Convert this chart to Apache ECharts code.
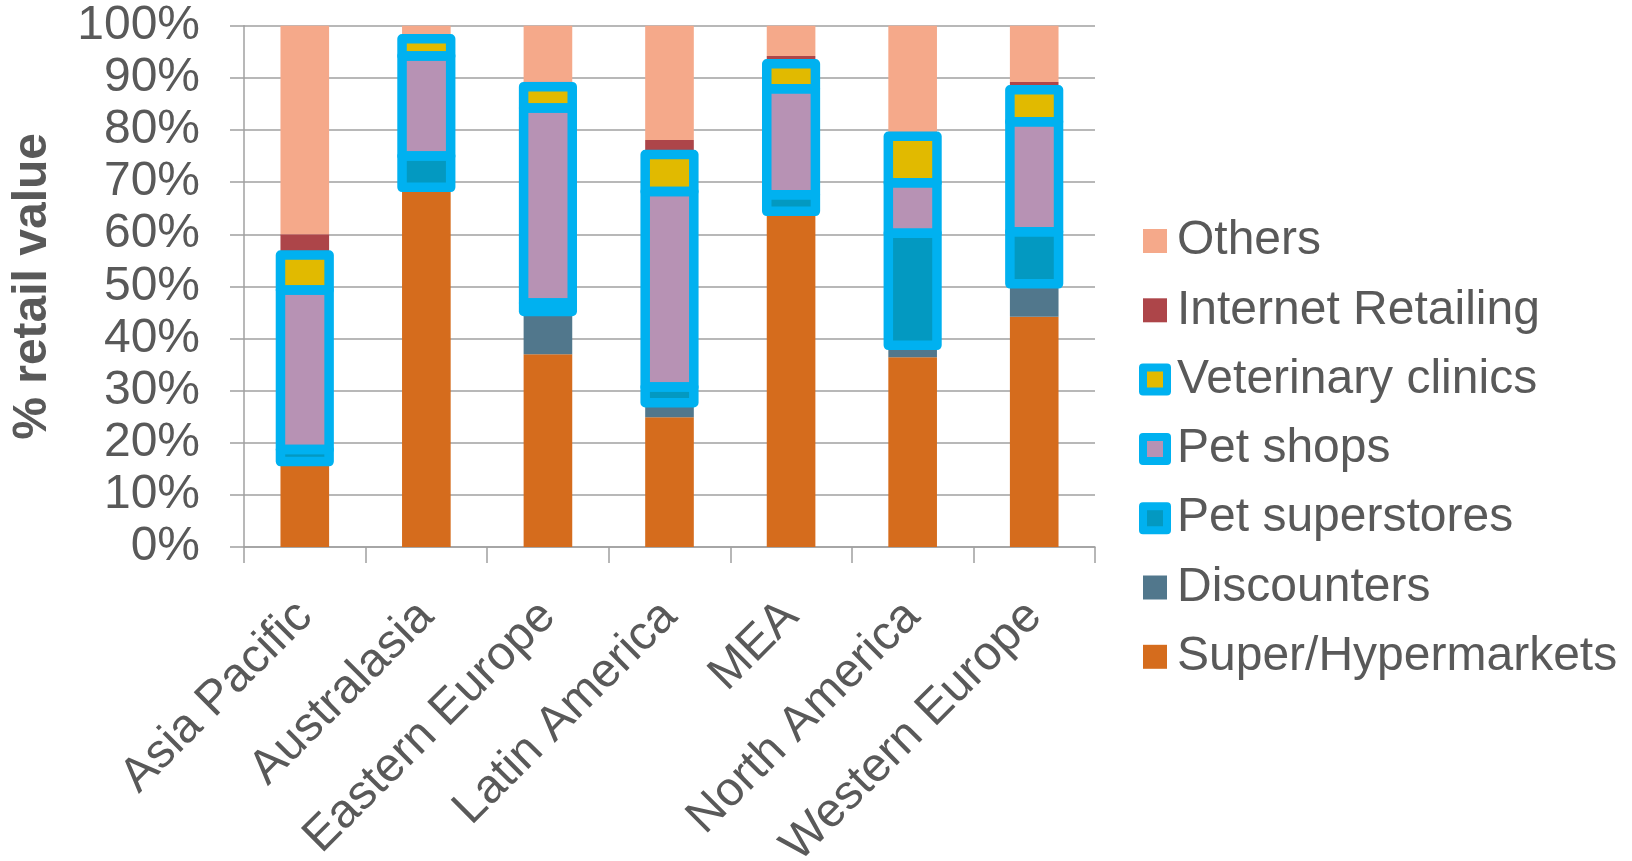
<!DOCTYPE html>
<html>
<head>
<meta charset="utf-8">
<title>Pet care retail channels by region</title>
<script src="https://cdn.jsdelivr.net/npm/echarts@6/dist/echarts.min.js"></script>
<style>
  html, body { margin: 0; padding: 0; background: #ffffff; }
  #chart { width: 1632px; height: 861px; }
</style>
</head>
<body>
<div id="chart"></div>
<script>
// Regions on the category axis
const categories = ['Asia Pacific', 'Australasia', 'Eastern Europe', 'Latin America', 'MEA', 'North America', 'Western Europe'];

// Share of retail value (%) by channel, one entry per region
const superHyper     = [16.0, 68.7, 37.0, 24.9, 64.0, 36.4, 44.2];
const discounters    = [0.4, 0.3, 8.2, 2.8, 0.4, 2.3, 6.3];
const petSuperstores = [2.3, 6.0, 1.6, 3.0, 3.2, 21.5, 10.0];
const petShops       = [30.6, 19.2, 37.4, 37.5, 20.3, 9.7, 21.1];
const vetClinics     = [6.7, 3.3, 4.1, 7.1, 4.8, 8.9, 6.1];
const internet       = [4.0, 0.8, 1.0, 2.8, 1.5, 0.5, 1.5];
const others         = [40.0, 1.7, 10.7, 21.9, 5.8, 20.7, 10.8];

// Y axis ticks
const yTicks = [0, 10, 20, 30, 40, 50, 60, 70, 80, 90, 100];

const TEXT = '#595959';
const GRID = '#A0A0A0';
const FRAME = '#00B1F0';
const FONT = '"Liberation Sans", Arial, sans-serif';

const channels = [
  { name: 'Super/Hypermarkets', data: superHyper,     color: '#D56C1D', framed: false },
  { name: 'Discounters',        data: discounters,    color: '#51778C', framed: false },
  { name: 'Pet superstores',    data: petSuperstores, color: '#0399C1', framed: true },
  { name: 'Pet shops',          data: petShops,       color: '#B792B4', framed: true },
  { name: 'Veterinary clinics', data: vetClinics,     color: '#E1BA00', framed: true },
  { name: 'Internet Retailing', data: internet,       color: '#AD4549', framed: false },
  { name: 'Others',             data: others,         color: '#F5A98A', framed: false }
];

const BAR_RATIO = 0.4;

// Stacked bars, one series per channel
const barSeries = channels.map(c => ({
  name: c.name,
  type: 'bar',
  stack: 'share',
  barWidth: (BAR_RATIO * 100) + '%',
  data: c.data,
  itemStyle: { color: c.color },
  emphasis: { disabled: true },
  silent: true
}));

// Segment extents [regionIndex, low, high] of the specialist channels, used for the blue frames
const frameData = [];
categories.forEach((_, i) => {
  let base = 0;
  channels.forEach(c => {
    const v = c.data[i];
    if (c.framed) frameData.push([i, base, base + v]);
    base += v;
  });
});

const frameSeries = {
  name: 'frames',
  type: 'custom',
  z: 5,
  silent: true,
  encode: { x: 0, y: [1, 2] },
  data: frameData,
  renderItem: function (params, api) {
    const i = api.value(0);
    const lo = api.coord([i, api.value(1)]);
    const hi = api.coord([i, api.value(2)]);
    const w = api.size([1, 0])[0] * BAR_RATIO;
    return {
      type: 'rect',
      shape: { x: lo[0] - w / 2, y: hi[1], width: w, height: lo[1] - hi[1] },
      style: { fill: 'none', stroke: FRAME, lineWidth: 9.5, lineJoin: 'round' }
    };
  }
};

// Legend lists channels top-down from Others to Super/Hypermarkets
const legendData = channels.slice().reverse().map(c => {
  const item = { name: c.name };
  if (c.framed) {
    item.itemStyle = { color: c.color, borderColor: FRAME, borderWidth: 8, borderJoin: 'round' };
  }
  return item;
});

const chart = echarts.init(document.getElementById('chart'), null, { renderer: 'canvas' });

chart.setOption({
  backgroundColor: '#ffffff',
  animation: false,
  textStyle: { fontFamily: FONT },
  grid: {
    left: 244,
    right: 537,
    top: 25.7,
    bottom: 313.9,
    containLabel: false,
    outerBoundsMode: 'none'
  },
  legend: {
    orient: 'vertical',
    left: 1139,
    top: 217,
    padding: 0,
    icon: 'rect',
    itemWidth: 24,
    itemHeight: 24,
    itemGap: 21.3,
    selectedMode: false,
    data: legendData,
    textStyle: {
      fontFamily: FONT,
      fontSize: 48,
      lineHeight: 48,
      color: TEXT,
      padding: [0, 0, 0, 5]
    }
  },
  xAxis: {
    type: 'category',
    data: categories,
    axisLine: { show: true, lineStyle: { color: GRID, width: 1.5 } },
    axisTick: { show: true, length: 16, lineStyle: { color: GRID, width: 1.5 } },
    axisLabel: {
      interval: 0,
      rotate: 45,
      margin: 62,
      fontFamily: FONT,
      fontSize: 48,
      color: TEXT
    },
    splitLine: { show: false }
  },
  yAxis: {
    type: 'value',
    min: yTicks[0],
    max: yTicks[yTicks.length - 1],
    interval: yTicks[1] - yTicks[0],
    name: '% retail value',
    nameLocation: 'middle',
    nameGap: 187,
    nameTextStyle: {
      fontFamily: FONT,
      fontSize: 48,
      lineHeight: 48,
      fontWeight: 'bold',
      color: TEXT
    },
    axisLine: { show: true, lineStyle: { color: GRID, width: 1.5 } },
    axisTick: { show: true, length: 14, lineStyle: { color: GRID, width: 1.5 } },
    axisLabel: {
      margin: 44,
      fontFamily: FONT,
      fontSize: 48,
      color: TEXT,
      formatter: '{value}%'
    },
    splitLine: { show: true, lineStyle: { color: GRID, width: 1.5 } }
  },
  series: barSeries.concat([frameSeries])
});
</script>
</body>
</html>
